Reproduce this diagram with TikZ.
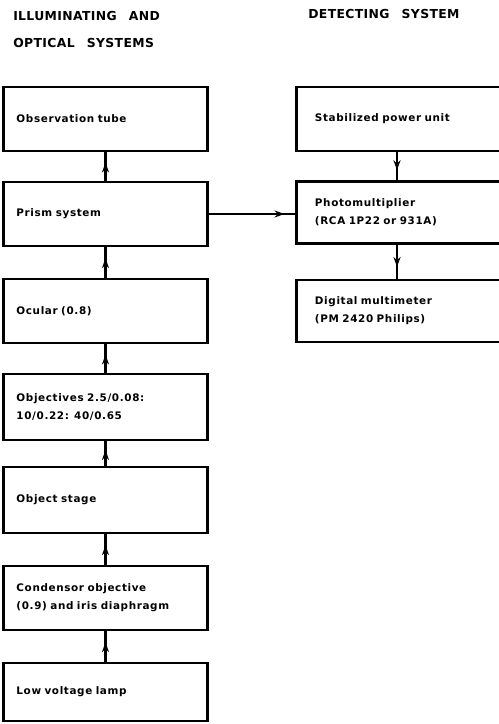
\documentclass[tikz,border=0pt]{standalone}
\usepackage{fontspec}
\setsansfont{DejaVu Sans}[LetterSpace=6, WordSpace=3.4]
\newfontfamily\headfont{DejaVu Sans}[LetterSpace=3, WordSpace=2.6]
\usetikzlibrary{arrows.meta,decorations.markings}

\tikzset{
  blk/.style={draw, line width=2.1pt, minimum height=1.6cm, text width=4.45cm, inner xsep=0.32cm, font=\sffamily\bfseries\fontsize{7.4}{12.8}\selectfont},
  rblk/.style={blk, text width=4.3cm, inner xsep=0.47cm},
  headline/.style={anchor=base west, inner sep=0pt, font=\headfont\bfseries\fontsize{8.8}{10}\selectfont},
  flow/.style={line width=1.6pt, postaction={decorate}, decoration={markings, mark=at position #1 with {\arrow{Stealth[length=7pt, width=5pt]}}}},
  flow/.default=0.64
}

\begin{document}
\begin{tikzpicture}[x=0.025cm, y=-0.025cm]
    \useasboundingbox (0,0) rectangle (499,724);
    \clip (0,0) rectangle (499,724);
    % headings
    \node[headline] (hillum) at (13,20) {ILLUMINATING AND};
    \node[headline] (hoptic) at (13,47) {OPTICAL SYSTEMS};
    \node[headline] (hdetect) at (308,18) {DETECTING SYSTEM};
    % illuminating and optical path
    \node[blk, minimum height=1.6cm] (obs) at (105.5,119) {Observation tube};
    \node[blk] (prism) at (105.5,214) {Prism system};
    \node[blk] (ocular) at (105.5,311) {Ocular (0.8)};
    \node[blk, minimum height=1.65cm] (objectives) at (105.5,407) {Objectives 2.5/0.08:\\10/0.22: 40/0.65};
    \node[blk, minimum height=1.65cm] (stage) at (105.5,500) {Object stage};
    \node[blk] (condenser) at (105.5,598) {Condensor objective\\(0.9) and iris diaphragm};
    \node[blk, minimum height=1.45cm] (lamp) at (105.5,692) {Low voltage lamp};
    % detecting system
    \node[rblk] (power) at (401,119) {Stabilized power unit};
    \node[rblk, minimum height=1.57cm] (photo) at (401,212.5) {Photomultiplier\\(RCA 1P22 or 931A)};
    \node[rblk, minimum height=1.55cm] (multi) at (401,311) {Digital multimeter\\(PM 2420 Philips)};
    % connectors
    \draw[flow] (prism) -- (obs);
    \draw[flow] (ocular) -- (prism);
    \draw[flow] (objectives) -- (ocular);
    \draw[flow] (stage) -- (objectives);
    \draw[flow] (condenser) -- (stage);
    \draw[flow] (lamp) -- (condenser);
    \draw[flow=0.88] (prism.east) -- (prism.east -| photo.west);
    \draw[flow=0.65] ([xshift=-0.1cm]power.south) -- ([xshift=-0.1cm]photo.north);
    \draw[flow=0.65] ([xshift=-0.1cm]photo.south) -- ([xshift=-0.1cm]multi.north);
\end{tikzpicture}
\end{document}
